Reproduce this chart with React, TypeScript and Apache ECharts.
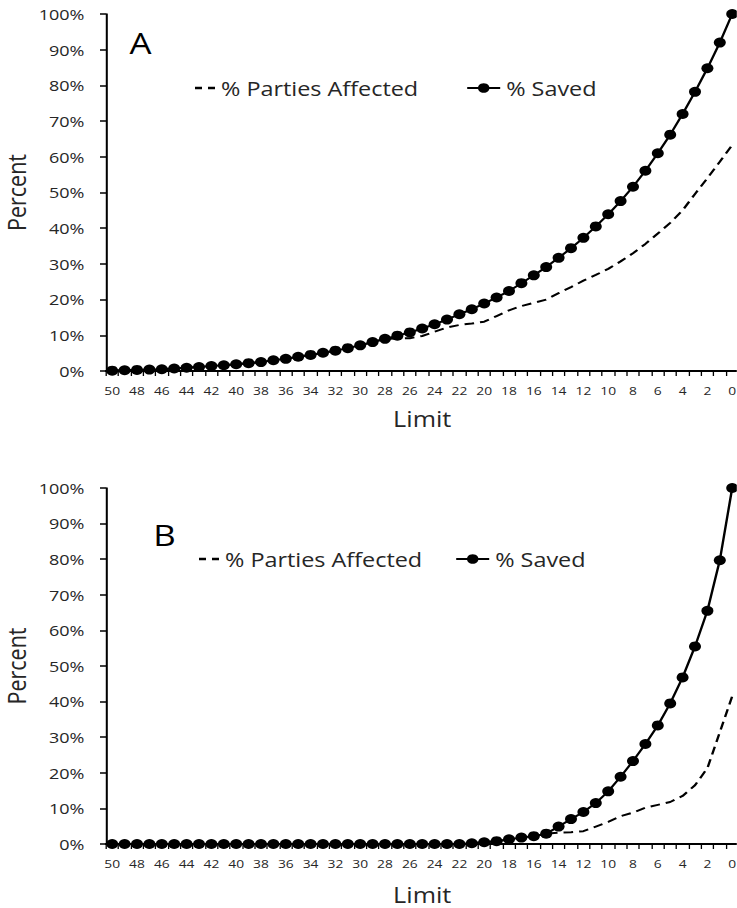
import React, { useEffect, useRef } from "react";
import * as echarts from "echarts";

// Category axis: limit values, from 50 down to 0
const limits = [
  "50", "49", "48", "47", "46", "45", "44", "43", "42", "41",
  "40", "39", "38", "37", "36", "35", "34", "33", "32", "31",
  "30", "29", "28", "27", "26", "25", "24", "23", "22", "21",
  "20", "19", "18", "17", "16", "15", "14", "13", "12", "11",
  "10", "9", "8", "7", "6", "5", "4", "3", "2", "1", "0",
];

// Panel A
const savedA = [
  0.1, 0.2, 0.3, 0.4, 0.5, 0.7, 0.9, 1.1, 1.4, 1.6,
  1.9, 2.2, 2.5, 3.0, 3.4, 4.0, 4.5, 5.1, 5.7, 6.4,
  7.2, 8.1, 9.0, 9.9, 10.8, 11.9, 13.1, 14.4, 15.9, 17.3,
  18.9, 20.6, 22.4, 24.6, 26.8, 29.1, 31.7, 34.4, 37.3, 40.5,
  43.9, 47.6, 51.6, 56.1, 61.0, 66.2, 72.0, 78.2, 84.8, 92.0,
  100,
];
const affectedA = [
  0.1, 0.2, 0.3, 0.4, 0.5, 0.7, 0.9, 1.1, 1.4, 1.6,
  1.9, 2.2, 2.5, 3.0, 3.4, 4.0, 4.5, 5.1, 5.7, 6.4,
  7.2, 8.1, 9.0, 9.1, 9.2, 9.8, 11.0, 12.2, 12.9, 13.3,
  13.8, 15.4, 17.0, 18.2, 19.1, 20.0, 21.8, 23.5, 25.3, 26.9,
  28.6, 30.7, 33.0, 35.6, 38.5, 41.5, 45.0, 49.6, 54.0, 58.6,
  63.3,
];

// Panel B
const savedB = [
  0, 0, 0, 0, 0, 0, 0, 0, 0, 0,
  0, 0, 0, 0, 0, 0, 0, 0, 0, 0,
  0, 0, 0, 0, 0, 0, 0, 0, 0, 0.2,
  0.5, 0.8, 1.3, 1.8, 2.2, 2.9, 4.9, 7.0, 9.0, 11.5,
  14.8, 18.9, 23.3, 28.1, 33.3, 39.5, 46.8, 55.5, 65.5, 79.7,
  100,
];
const affectedB = [
  0, 0, 0, 0, 0, 0, 0, 0, 0, 0,
  0, 0, 0, 0, 0, 0, 0, 0, 0, 0,
  0, 0, 0, 0, 0, 0, 0, 0, 0, 0.2,
  0.5, 0.8, 1.3, 1.8, 2.2, 2.9, 3.2, 3.3, 3.6, 4.9,
  6.2, 7.8, 8.8, 10.2, 11.0, 11.8, 13.5, 16.5, 21.3, 31.4,
  41.5,
];

const yTicks = { min: 0, max: 100, interval: 10 };
const panelLetters = ["A", "B"];
const nameAffected = "% Parties Affected";
const nameSaved = "% Saved";

// The reference picture is stretched horizontally; render narrower and scale X.
const S = 1.2;
const W = 737 / S;
const H = 908;
const sx = (x: number) => x / S;

const FONT = "'Open Sans', sans-serif";
const TXT = "#262626";
const DASH_ICON = "path://M0,0h7v3.2h-7z M13,0h7v3.2h-7z";

export default function App() {
  const ref = useRef<HTMLDivElement>(null);

  useEffect(() => {
    const chart = echarts.init(ref.current!, null, { renderer: "svg" });

    const panels = [
      { top: 14, height: 357, saved: savedA, affected: affectedA, nameGap: 37, legendTop: 78, letterY: 43, letterX: 140.5,
        dashLeft: 195, savedLeft: 466 },
      { top: 488, height: 356, saved: savedB, affected: affectedB, nameGap: 40, legendTop: 549, letterY: 535, letterX: 164.5,
        dashLeft: 199, savedLeft: 455 },
    ];

    const grid = panels.map((p) => ({
      left: sx(106),
      top: p.top,
      width: sx(632.4),
      height: p.height,
      outerBoundsMode: "none",
    }));

    const xAxis = panels.map((p, i) => ({
      type: "category",
      gridIndex: i,
      data: limits,
      boundaryGap: true,
      axisLine: { show: true, lineStyle: { color: "#000", width: 2 } },
      axisTick: { show: true, interval: 0, length: 5, lineStyle: { color: "#000", width: 1.1 } },
      axisLabel: { interval: 1, margin: 13, fontSize: 11.5, color: TXT, fontFamily: FONT },
      splitLine: { show: false },
      name: "Limit",
      nameLocation: "middle",
      nameGap: p.nameGap,
      nameMoveOverlap: false,
      nameTextStyle: { fontSize: 21, color: TXT, fontFamily: FONT },
    }));

    const yAxis = panels.map((p, i) => ({
      type: "value",
      gridIndex: i,
      ...yTicks,
      axisLine: { show: true, lineStyle: { color: "#000", width: 1.7 } },
      axisTick: { show: true, length: 5, lineStyle: { color: "#000", width: 1.5 } },
      axisLabel: { formatter: "{value}%", margin: 18, fontSize: 15, color: TXT, fontFamily: FONT },
      splitLine: { show: false },
      name: "Percent",
      nameLocation: "middle",
      nameRotate: 90,
      nameGap: 63.5,
      nameMoveOverlap: false,
      nameTextStyle: { fontSize: 21.5, color: TXT, fontFamily: FONT },
    }));

    const series: any[] = [];
    panels.forEach((p, i) => {
      series.push({
        name: nameAffected,
        type: "line",
        xAxisIndex: i,
        yAxisIndex: i,
        data: p.affected,
        symbol: "none",
        lineStyle: { color: "#000", width: 2, type: [8, 5] },
        itemStyle: { color: "#000" },
        z: 2,
      });
      series.push({
        name: nameSaved,
        type: "line",
        xAxisIndex: i,
        yAxisIndex: i,
        data: p.saved,
        symbol: "circle",
        symbolSize: 10,
        showAllSymbol: true,
        lineStyle: { color: "#000", width: 2 },
        itemStyle: { color: "#000" },
        z: 3,
      });
    });

    const legend: any[] = [];
    panels.forEach((p) => {
      legend.push({
        data: [{ name: nameAffected, icon: DASH_ICON }],
        left: sx(p.dashLeft),
        top: p.legendTop,
        padding: 0,
        itemWidth: sx(20),
        itemHeight: 3.2,
        selectedMode: false,
        itemStyle: { color: "#000" },
        textStyle: { fontSize: 19.5, color: TXT, fontFamily: FONT },
      });
      legend.push({
        data: [nameSaved],
        left: sx(p.savedLeft),
        top: p.legendTop,
        padding: 0,
        itemWidth: sx(33),
        itemHeight: 12,
        selectedMode: false,
        textStyle: { fontSize: 19.5, color: TXT, fontFamily: FONT },
      });
    });

    const graphic = panels.map((p, i) => ({
      type: "text",
      x: sx(p.letterX),
      y: p.letterY,
      style: {
        text: panelLetters[i],
        fontSize: 29,
        fontFamily: FONT,
        fill: "#000",
        align: "center",
        verticalAlign: "middle",
      },
    }));

    chart.setOption({
      animation: false,
      backgroundColor: "#fff",
      grid,
      xAxis,
      yAxis,
      series,
      legend,
      graphic,
    } as any);

    return () => chart.dispose();
  }, []);

  return (
    <div
      ref={ref}
      style={{
        position: "absolute",
        left: 0,
        top: 0,
        width: W,
        height: H,
        transform: `scaleX(${S})`,
        transformOrigin: "0 0",
      }}
    />
  );
}
